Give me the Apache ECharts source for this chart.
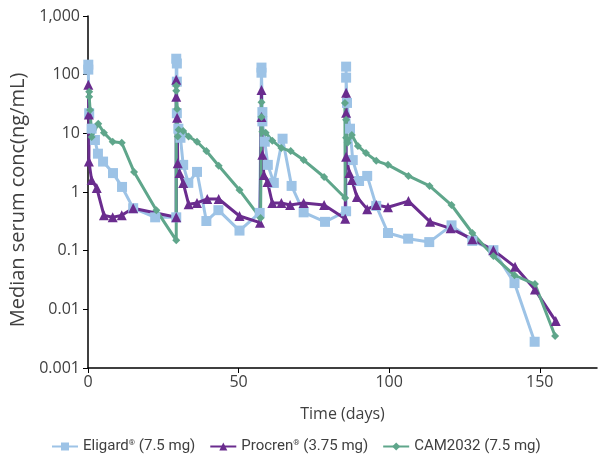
<!DOCTYPE html>
<html>
<head>
<meta charset="utf-8">
<script src="https://cdn.jsdelivr.net/npm/echarts@6/dist/echarts.min.js"></script>
<style>
  html, body { margin: 0; padding: 0; background: #fff; }
  #main { width: 599px; height: 463px; }
</style>
</head>
<body>
<div id="main"></div>
<script>
// days since first dose
var eligardDays = [0.1, 0.1, 0.4, 1.2, 2.3, 3.3, 5, 8.3, 11.3, 15, 22.3, 29.3,
  29.3, 29.5, 29.5, 29.5, 30, 30.7, 31.6, 33.3, 36.2, 39.3, 43.3, 50.3, 57,
  57.6, 57.6, 57.9, 57.9, 58.7, 59.7, 61.7, 64.6, 67.6, 71.6, 78.7, 85.7,
  85.7, 85.7, 86, 87, 87.9, 90, 92.7, 95.7, 99.6, 106.3, 113.3, 120.7, 127.6, 134.6, 141.6, 148.3];
var eligardConc = [148, 122, 22, 12, 7.7, 4.5, 3.3, 2.1, 1.22, 0.53, 0.37, 0.37,
  187, 155, 76, 22, 12, 8.4, 2.9, 1.43, 2.2, 0.32, 0.49, 0.22, 0.44,
  132, 108, 23, 16, 7.2, 2.9, 1.43, 8.1, 1.27, 0.45, 0.31, 0.47,
  137, 89, 33, 12, 3.5, 1.54, 1.88, 0.58, 0.2, 0.16, 0.14, 0.27, 0.147, 0.102, 0.028, 0.0028];

var procrenDays = [0.1, 0.3, 0.3, 1.2, 2.9, 5.3, 8.2, 11.2, 15, 29.3,
  29.3, 29.3, 29.6, 29.8, 30.4, 31.6, 33.4, 36.2, 39.6, 43.4, 50.3, 57.1,
  57.6, 57.6, 57.9, 58.4, 59.6, 61.2, 64.2, 67.1, 71.6, 78.4, 85.4,
  85.7, 85.7, 85.7, 86.8, 87.6, 89.3, 92.7, 95.7, 99.6, 106.4, 113.6, 120.4, 127.6, 134.6, 141.8, 148.4, 155.3];
var procrenConc = [67, 21, 3.3, 1.6, 1.17, 0.4, 0.37, 0.4, 0.53, 0.37,
  82, 42, 18.5, 3.1, 2.1, 1.43, 0.62, 0.65, 0.76, 0.76, 0.39, 0.3,
  55, 19, 4.3, 1.95, 1.48, 0.65, 0.65, 0.6, 0.65, 0.6, 0.35,
  49, 22.4, 4, 2.1, 1.6, 0.82, 0.51, 0.6, 0.55, 0.7, 0.31, 0.24, 0.157, 0.102, 0.053, 0.0217, 0.0063];

var camDays = [0.4, 0.4, 0.7, 1.2, 3.4, 5.3, 8.2, 11.2, 15.3, 22.7, 29.3,
  29.3, 29.3, 29.6, 29.8, 30.1, 31.6, 33.4, 36.2, 39.3, 43.4, 50.3, 57.3,
  57.6, 57.6, 57.9, 59, 61.2, 64.2, 67.3, 71.6, 78.4, 85.4,
  85.3, 85.7, 85.7, 86.2, 87.6, 89.6, 92.3, 95.7, 99.6, 106.4, 113.4, 120.7, 127.6, 134.6, 141.6, 148.4, 155.1];
var camConc = [51, 42, 25, 8.7, 14.6, 10.2, 7.2, 6.9, 2.2, 0.49, 0.15,
  65, 53, 26, 8.8, 11.5, 11, 8.8, 7.2, 5, 2.8, 1.08, 0.36,
  34, 19, 10.6, 10.2, 7.5, 5.6, 5, 3.5, 1.8, 0.79,
  33, 17, 8.4, 6.9, 9.4, 6.1, 4.6, 3.4, 2.9, 1.88, 1.27, 0.6, 0.2, 0.081, 0.038, 0.027, 0.0035];

var xTicks = [0, 50, 100, 150];
var yTickLabels = ['0.001', '0.01', '0.1', '1', '10', '100', '1,000'];
var seriesNames = ['Eligard® (7.5 mg)', 'Procren® (3.75 mg)', 'CAM2032 (7.5 mg)'];

function pairs(days, conc) {
  return days.map(function (d, i) { return [d, conc[i]]; });
}

var myChart = echarts.init(document.getElementById('main'));
var axisFont = { fontFamily: 'Open Sans', fontSize: 16, color: '#404040' };

myChart.setOption({
  animation: false,
  grid: { left: 88, right: 2, top: 16, bottom: 95 },
  legend: {
    bottom: 4,
    left: 46,
    itemWidth: 26,
    itemHeight: 10,
    itemGap: 14,
    textStyle: {
      fontFamily: 'Roboto', fontSize: 15, color: '#404040',
      rich: { sup: { fontFamily: 'Roboto', fontSize: 8, verticalAlign: 'top', padding: [0, 0, 6, 0], color: '#404040' } }
    },
    formatter: function (name) {
      return name.replace('®', '{sup|®}');
    },
    data: seriesNames
  },
  xAxis: {
    type: 'value',
    min: 0,
    max: 169,
    name: 'Time (days)',
    nameLocation: 'middle',
    nameGap: 38,
    nameTextStyle: axisFont,
    splitLine: { show: false },
    axisLine: { lineStyle: { color: '#000', width: 1.5 } },
    axisTick: { length: 5, customValues: xTicks, lineStyle: { color: '#000' } },
    axisLabel: Object.assign({ customValues: xTicks, margin: 6 }, axisFont)
  },
  yAxis: {
    type: 'log',
    logBase: 10,
    min: 0.001,
    max: 1000,
    name: 'Median serum conc(ng/mL)',
    nameLocation: 'middle',
    nameGap: 58,
    nameTextStyle: { fontFamily: 'Open Sans', fontSize: 20, color: '#404040', padding: [0, 16, 0, 0] },
    splitLine: { show: false },
    axisLine: { show: true, lineStyle: { color: '#000', width: 1.5 } },
    axisTick: { show: true, length: 5, lineStyle: { color: '#000' } },
    axisLabel: Object.assign({
      margin: 8,
      formatter: function (v) {
        return yTickLabels[Math.round(Math.log10(v)) + 3];
      }
    }, axisFont)
  },
  series: [
    {
      name: seriesNames[0],
      type: 'line',
      data: pairs(eligardDays, eligardConc),
      symbol: 'rect',
      symbolSize: 10,
      color: '#9DC3E6',
      lineStyle: { width: 3 }
    },
    {
      name: seriesNames[1],
      type: 'line',
      data: pairs(procrenDays, procrenConc),
      symbol: 'triangle',
      symbolSize: 10,
      color: '#6A2C8E',
      lineStyle: { width: 3 }
    },
    {
      name: seriesNames[2],
      type: 'line',
      data: pairs(camDays, camConc),
      symbol: 'diamond',
      symbolSize: 8,
      color: '#5FA68B',
      lineStyle: { width: 3 }
    }
  ]
});
</script>
</body>
</html>
